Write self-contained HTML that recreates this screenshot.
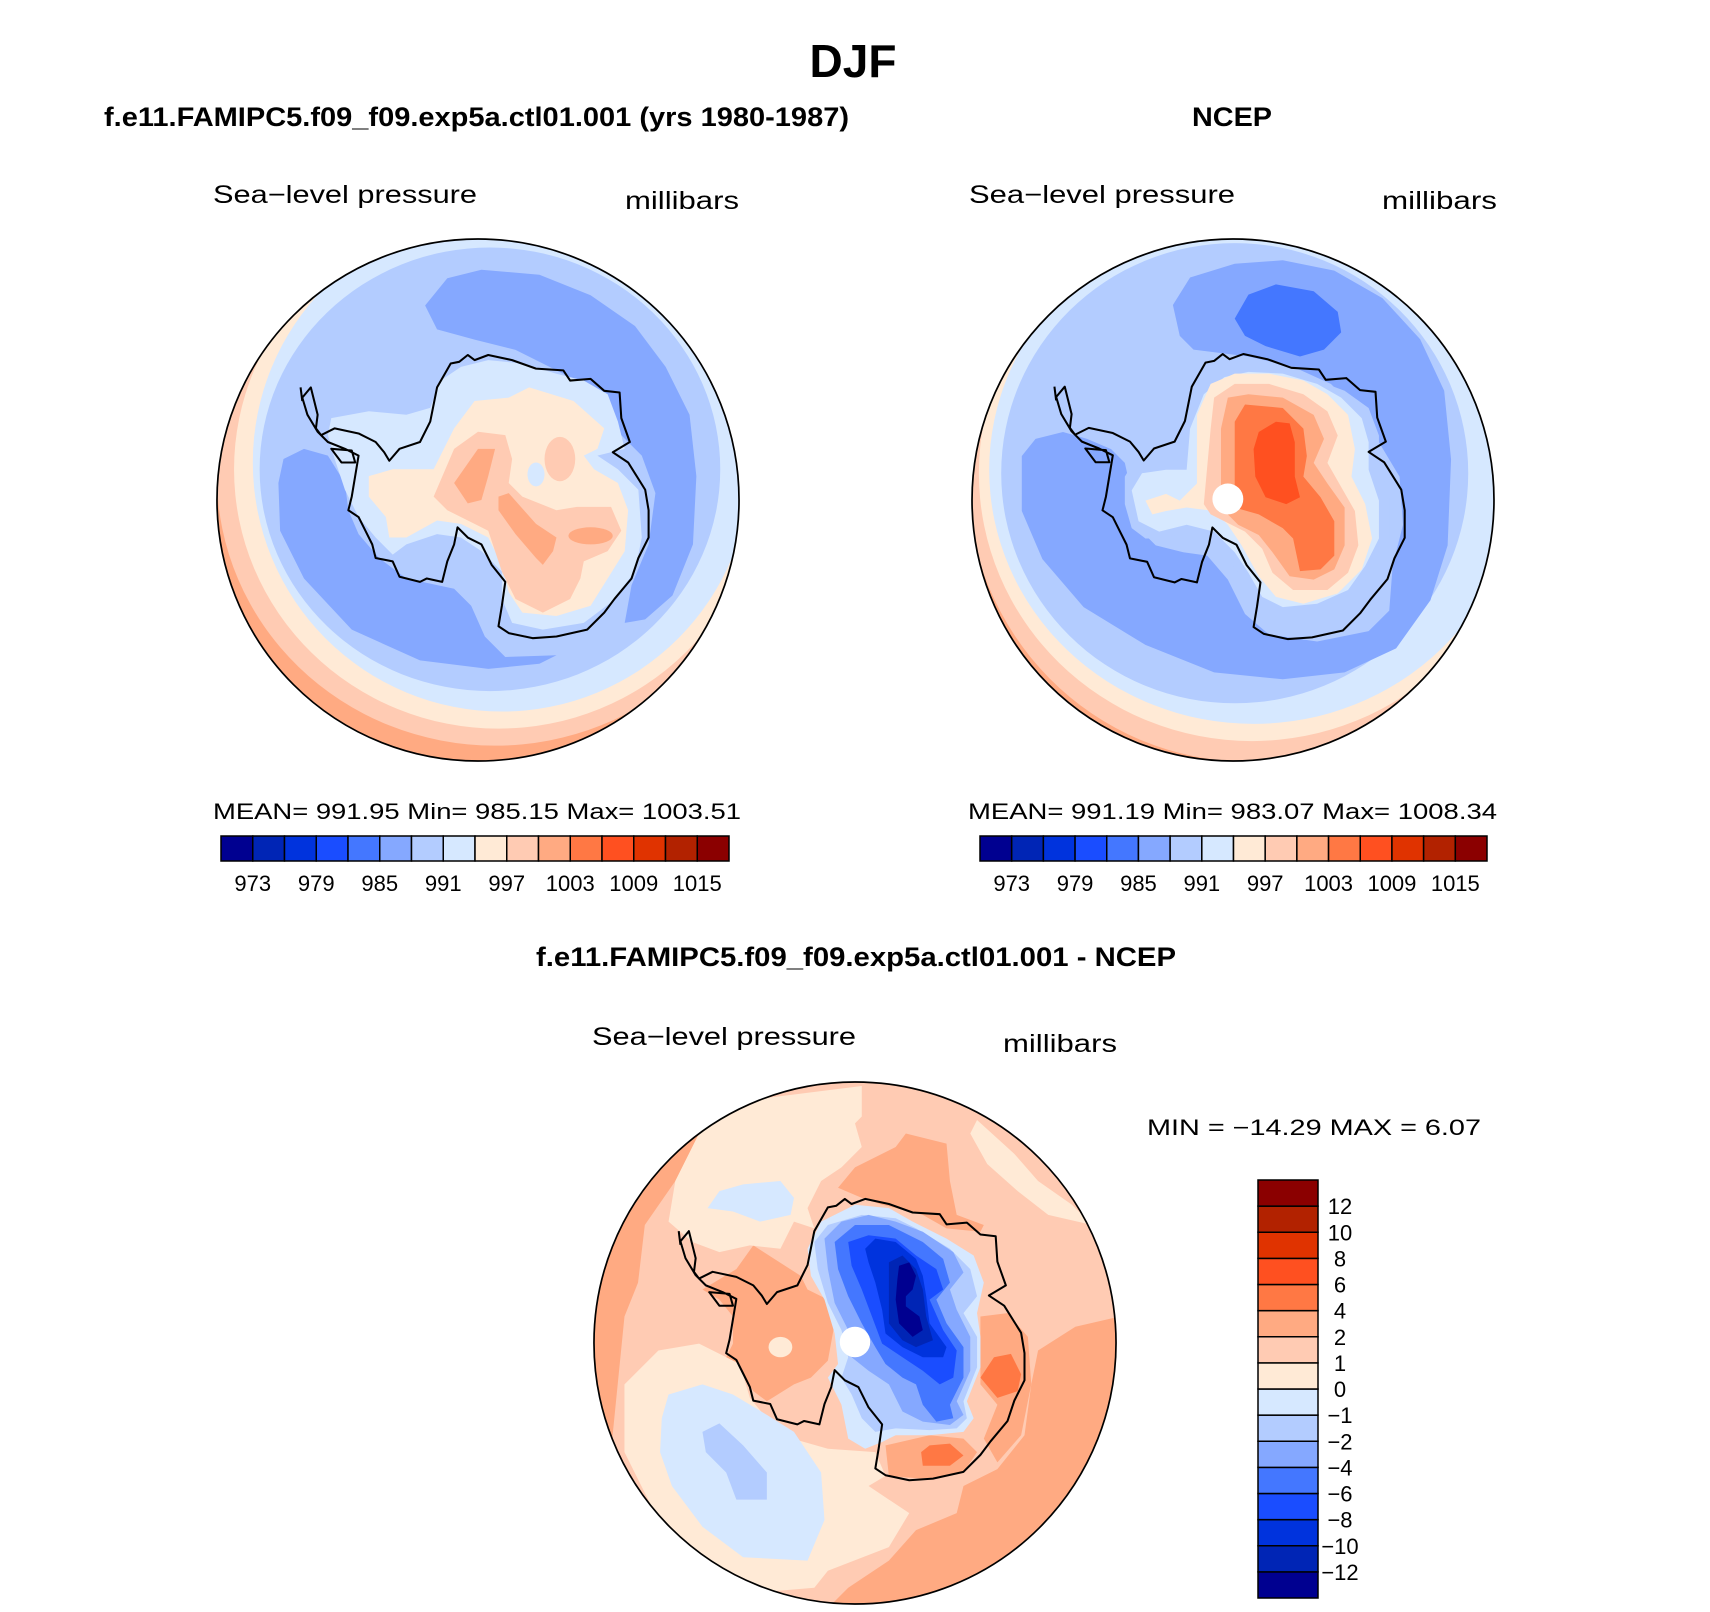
<!DOCTYPE html>
<html><head><meta charset="utf-8"><title>DJF Sea-level pressure</title>
<style>
html,body{margin:0;padding:0;background:#fff;}
svg{display:block;}
text{font-family:"Liberation Sans",sans-serif;fill:#000;}
</style></head>
<body>
<svg id="fig" width="1710" height="1612" viewBox="0 0 1710 1612" xmlns="http://www.w3.org/2000/svg">
<defs>
  <clipPath id="clipL"><circle cx="770" cy="770" r="765"/></clipPath>
  <clipPath id="clipR"><circle cx="755" cy="768" r="760"/></clipPath>
  <clipPath id="clipB"><circle cx="780" cy="778" r="770"/></clipPath>
  <path id="coast" fill="none" stroke="#000" stroke-width="6" stroke-linejoin="round" d="M280,440 L290,480 L300,520 L295,560 L310,580 L350,560 L420,575 L470,600 L495,630 L510,655 L540,620 L600,600 L630,540 L650,440 L690,370 L715,365 L740,345 L760,360 L800,345 L870,360 L940,385 L1020,390 L1040,420 L1100,415 L1140,450 L1185,455 L1190,530 L1215,600 L1165,630 L1210,660 L1260,740 L1270,800 L1270,880 L1240,940 L1220,1000 L1170,1060 L1140,1100 L1090,1150 L1000,1170 L930,1175 L860,1160 L830,1140 L840,1080 L850,1010 L810,960 L780,900 L740,880 L710,850 L700,900 L680,950 L665,1010 L620,1000 L600,1010 L540,995 L520,950 L470,940 L460,900 L440,860 L420,820 L390,800 L400,760 L410,700 L420,640 L380,620 L330,600 L300,570 L270,520 L255,470 Z M340,620 L400,625 L410,660 L370,660 Z M250,440 L255,480"/>
</defs>

<text x="853" y="77" font-size="46" font-weight="bold" text-anchor="middle">DJF</text>
<text x="104" y="126" font-size="27" font-weight="bold" textLength="745" lengthAdjust="spacingAndGlyphs">f.e11.FAMIPC5.f09_f09.exp5a.ctl01.001 (yrs 1980-1987)</text>
<text x="1232" y="126" font-size="27" font-weight="bold" text-anchor="middle" textLength="80" lengthAdjust="spacingAndGlyphs">NCEP</text>

<text x="213" y="203" font-size="25" textLength="264" lengthAdjust="spacingAndGlyphs">Sea−level pressure</text>
<text x="625" y="209" font-size="25" textLength="114" lengthAdjust="spacingAndGlyphs">millibars</text>
<text x="969" y="203" font-size="25" textLength="266" lengthAdjust="spacingAndGlyphs">Sea−level pressure</text>
<text x="1382" y="209" font-size="25" textLength="115" lengthAdjust="spacingAndGlyphs">millibars</text>

<!-- LEFT MAP -->
<g transform="translate(478,500) scale(0.3412) translate(-770,-770)">
 <g clip-path="url(#clipL)">
  <circle cx="770" cy="770" r="765" fill="#ffaa82"/>
  <ellipse cx="820" cy="700" rx="815" ry="790" fill="#ffcbb3"/>
  <ellipse cx="830" cy="680" rx="775" ry="760" fill="#ffead6"/>
  <ellipse cx="840" cy="660" rx="730" ry="730" fill="#d6e8ff"/>
  <ellipse cx="805" cy="680" rx="675" ry="650" fill="#b3ccff"/>
  <polygon fill="#85a8ff" points="185,720 200,650 260,620 330,640 380,720 390,800 420,870 480,940 560,1000 700,1030 750,1080 790,1170 850,1230 1000,1225 950,1250 800,1265 600,1240 400,1150 260,1000 190,860"/>
  <polygon fill="#85a8ff" points="1200,1130 1220,1020 1270,900 1290,750 1250,640 1170,560 1100,470 1020,400 880,330 760,300 650,270 615,200 680,120 780,95 950,110 1100,170 1230,260 1320,380 1390,520 1410,700 1400,900 1340,1050 1260,1120"/>
  <polygon fill="#d6e8ff" points="340,530 450,510 560,520 630,500 660,420 720,380 800,360 900,370 1000,400 1080,420 1150,460 1180,540 1200,620 1120,640 1180,680 1240,740 1250,880 1230,980 1160,1070 1080,1130 960,1150 870,1130 840,1060 840,980 780,920 720,880 650,870 560,900 520,930 470,880 420,820 380,740 350,650 330,580"/>
  <polygon fill="#ffead6" points="450,700 520,680 640,680 700,560 760,480 860,470 920,440 1050,480 1140,560 1120,620 1080,640 1110,680 1180,720 1210,800 1200,920 1150,1000 1100,1080 1000,1110 900,1100 860,1040 840,960 800,880 720,840 650,830 560,880 510,880 500,820 450,760"/>
  <polygon fill="#ffcbb3" points="640,760 700,620 770,570 850,580 870,650 860,720 900,760 1000,800 1060,790 1160,790 1190,860 1150,920 1080,950 1070,1000 1040,1060 960,1100 880,1060 840,980 800,860 760,840 680,800"/>
  <ellipse cx="1010" cy="650" rx="45" ry="65" fill="#ffcbb3"/>
  <ellipse cx="940" cy="695" rx="25" ry="35" fill="#d6e8ff"/>
  <polygon fill="#ffaa82" points="700,720 770,620 820,620 800,700 780,770 740,780"/>
  <polygon fill="#ffaa82" points="830,760 860,750 940,840 1000,880 990,920 960,960 940,940 880,870 830,800"/>
  <ellipse cx="1100" cy="875" rx="65" ry="25" fill="#ffaa82"/>
 </g>
 <use href="#coast"/>
 <circle cx="770" cy="770" r="765" fill="none" stroke="#000" stroke-width="5"/>
</g>

<!-- RIGHT MAP -->
<g transform="translate(1233,500) scale(0.3434) translate(-755,-768)">
 <g clip-path="url(#clipR)">
  <circle cx="755" cy="768" r="760" fill="#ffaa82"/>
  <ellipse cx="800" cy="700" rx="820" ry="830" fill="#ffcbb3"/>
  <ellipse cx="810" cy="690" rx="795" ry="780" fill="#ffead6"/>
  <ellipse cx="815" cy="680" rx="770" ry="740" fill="#d6e8ff"/>
  <ellipse cx="760" cy="690" rx="680" ry="670" fill="#b3ccff"/>
  <polygon fill="#85a8ff" points="140,640 180,590 260,570 330,590 400,620 440,660 460,750 470,840 530,900 610,920 680,930 740,1000 790,1100 860,1160 1000,1180 1150,1150 1210,1090 1220,960 1250,840 1240,700 1180,600 1120,510 1040,430 930,380 800,350 640,330 600,290 580,200 630,120 760,80 900,70 1050,100 1190,180 1300,300 1370,450 1390,650 1380,900 1330,1060 1230,1200 1080,1270 900,1290 700,1270 500,1190 320,1080 200,940 140,800"/>
  <polygon fill="#4477ff" points="760,240 800,170 880,140 990,160 1060,220 1070,280 1020,330 950,350 850,320 790,290"/>
  <polygon fill="#b3ccff" points="440,700 470,650 540,660 610,650 620,560 660,460 720,400 800,380 900,390 1000,420 1080,450 1150,500 1180,580 1180,660 1210,760 1210,880 1170,960 1120,1030 1020,1080 900,1090 820,1060 780,990 740,940 680,880 620,860 560,880 500,880 460,850 440,780"/>
  <polygon fill="#d6e8ff" points="460,740 490,690 560,680 620,680 630,560 670,460 730,410 800,395 900,400 1000,430 1070,470 1130,530 1150,600 1150,680 1180,770 1180,880 1140,960 1090,1030 1000,1070 900,1080 840,1050 800,980 760,920 700,860 620,840 540,860 480,830"/>
  <polygon fill="#ffead6" points="500,770 560,750 600,770 650,720 650,520 690,430 760,400 860,400 960,420 1030,460 1090,520 1110,620 1100,700 1140,780 1160,880 1130,970 1060,1040 960,1070 880,1050 830,990 780,900 740,840 700,800 620,790 560,800 520,810"/>
  <polygon fill="#ffcbb3" points="670,780 690,560 700,470 760,430 860,430 960,460 1030,510 1060,580 1030,660 1070,730 1110,800 1120,900 1090,980 1030,1030 930,1030 870,980 840,910 790,860 730,830 690,810"/>
  <polygon fill="#ffaa82" points="720,790 720,560 740,470 800,460 900,470 990,520 1020,590 990,660 1030,720 1080,790 1080,900 1050,970 990,1000 920,990 870,920 830,870 770,840"/>
  <polygon fill="#ff7844" points="760,790 760,540 790,490 900,500 960,560 970,640 960,700 1010,760 1050,830 1050,930 1010,970 950,975 930,880 900,850 830,810"/>
  <polygon fill="#ff5020" points="815,620 830,570 880,540 920,545 935,600 935,700 950,760 910,780 850,760 820,700"/>
  <circle cx="740" cy="765" r="45" fill="#fff"/>
 </g>
 <use href="#coast" transform="translate(-15,-2)"/>
 <circle cx="755" cy="768" r="760" fill="none" stroke="#000" stroke-width="5"/>
</g>

<text x="213" y="819" font-size="22" textLength="528" lengthAdjust="spacingAndGlyphs">MEAN= 991.95   Min= 985.15   Max= 1003.51</text>
<text x="968" y="819" font-size="22" textLength="529" lengthAdjust="spacingAndGlyphs">MEAN= 991.19   Min= 983.07   Max= 1008.34</text>

<g id="cbarLeft"></g>
<g id="cbarRight"></g>

<text x="856" y="966" font-size="27" font-weight="bold" text-anchor="middle" textLength="640" lengthAdjust="spacingAndGlyphs">f.e11.FAMIPC5.f09_f09.exp5a.ctl01.001 - NCEP</text>
<text x="592" y="1045" font-size="25" textLength="264" lengthAdjust="spacingAndGlyphs">Sea−level pressure</text>
<text x="1003" y="1052" font-size="25" textLength="114" lengthAdjust="spacingAndGlyphs">millibars</text>
<text x="1147" y="1135" font-size="22" textLength="334" lengthAdjust="spacingAndGlyphs">MIN = −14.29 MAX =    6.07</text>

<!-- BOTTOM DIFFERENCE MAP -->
<g transform="translate(855,1343) scale(0.339) translate(-780,-778)">
 <g clip-path="url(#clipB)">
  <circle cx="780" cy="778" r="770" fill="#ffcbb3"/>
  <polygon fill="#ffaa82" points="0,400 80,300 200,200 330,140 250,300 160,430 140,600 100,700 80,900 60,1100 30,1100 0,900"/>
  <polygon fill="#ffaa82" points="1560,700 1560,1560 700,1560 760,1500 880,1420 960,1330 1080,1280 1100,1200 1200,1150 1280,1050 1300,900 1320,800 1430,730"/>
  <polygon fill="#ffaa82" points="730,320 780,260 900,200 930,160 1050,190 1060,300 1080,400 1160,430 1150,450 1050,440 980,400 860,370 800,350"/>
  <polygon fill="#ffaa82" points="330,620 430,560 480,490 620,580 640,620 700,650 720,720 700,830 650,880 600,900 520,950 480,920 450,870 400,820 420,780 420,700 380,650"/>
  <polygon fill="#ffaa82" points="1150,700 1230,690 1290,760 1300,900 1270,1050 1200,1130 1160,1060 1200,960 1150,900"/>
  <polygon fill="#ffaa82" points="870,1080 1000,1050 1100,1060 1140,1100 1100,1160 1000,1180 880,1170"/>
  <polygon fill="#ffead6" points="330,140 480,60 800,20 800,110 780,130 800,200 740,260 680,300 640,380 660,440 600,420 560,500 470,490 380,510 300,480 230,420 250,300"/>
  <polygon fill="#ffead6" points="100,900 200,800 320,780 440,840 470,940 560,1050 700,1090 840,1100 870,1170 820,1200 940,1280 880,1380 700,1450 660,1500 420,1520 200,1300 100,1100"/>
  <polygon fill="#ffead6" points="1140,120 1250,220 1320,300 1420,370 1480,430 1350,400 1260,330 1170,250 1120,160"/>
  <ellipse cx="560" cy="790" rx="35" ry="30" fill="#ffead6"/>
  <polygon fill="#d6e8ff" points="210,1000 230,930 330,900 420,930 520,990 600,1040 680,1160 690,1300 640,1420 450,1410 330,1320 240,1200 205,1100"/>
  <polygon fill="#b3ccff" points="330,1040 380,1015 450,1080 520,1160 520,1240 430,1240 400,1160 340,1100"/>
  <polygon fill="#d6e8ff" points="345,380 380,330 450,310 560,300 600,350 590,400 500,420 420,390"/>
  <polygon fill="#ff7844" points="1150,880 1190,820 1240,810 1270,870 1260,920 1200,940"/>
  <polygon fill="#ff7844" points="975,1100 1000,1080 1060,1075 1100,1110 1060,1140 980,1140"/>
  <polygon fill="#d6e8ff" points="640,500 680,420 780,370 880,380 950,420 1050,470 1130,520 1160,600 1140,690 1150,760 1150,850 1110,950 1130,1000 1100,1040 1000,1050 900,1050 860,1070 810,1090 760,1060 740,960 700,880 730,840 720,750 690,650 650,580"/>
  <polygon fill="#b3ccff" points="660,480 700,430 800,400 900,410 960,440 1060,500 1120,560 1140,640 1100,690 1140,760 1140,850 1100,950 1110,1000 1080,1030 1000,1035 900,1030 840,1040 800,1000 770,930 740,880 760,820 740,740 700,660 670,560"/>
  <polygon fill="#85a8ff" points="690,470 740,420 820,400 900,420 980,450 1070,510 1100,570 1060,620 1080,680 1120,760 1120,860 1080,950 1100,990 1060,1020 980,1010 920,980 880,900 820,860 770,820 760,740 720,660 700,560"/>
  <polygon fill="#4477ff" points="720,480 780,430 880,430 980,480 1040,530 1060,600 1020,650 1050,720 1100,790 1100,880 1060,960 1070,1000 1020,1010 980,960 960,900 920,880 870,840 840,790 800,720 760,640 730,560"/>
  <polygon fill="#1a4dff" points="760,480 820,460 900,470 960,520 1020,560 1040,620 1000,650 1040,740 1080,800 1070,880 1030,900 980,860 920,820 860,780 830,700 800,620 770,550"/>
  <polygon fill="#0033dd" points="810,500 840,470 900,480 960,530 980,580 990,640 1000,720 1050,790 1040,820 980,820 920,790 870,750 860,680 840,600 820,540"/>
  <polygon fill="#0025b5" points="880,540 920,520 960,560 980,620 990,700 1010,770 960,790 920,770 880,720 880,640"/>
  <polygon fill="#000090" points="910,550 940,540 960,580 950,620 930,640 930,670 970,700 980,740 950,760 910,720 900,650 905,590"/>
  <circle cx="780" cy="775" r="45" fill="#fff"/>
 </g>
 <use href="#coast" transform="translate(10,8)"/>
 <circle cx="780" cy="778" r="770" fill="none" stroke="#000" stroke-width="5"/>
</g>

<g id="cbarDiff"></g>
</svg>

<script>
// colorbar data
const fillColors = ["#000090","#0025b5","#0033dd","#1a4dff","#4477ff","#85a8ff","#b3ccff","#d6e8ff","#ffead6","#ffcbb3","#ffaa82","#ff7844","#ff5020","#e03300","#b22200","#8b0000"];
const slpLevels = [973,976,979,982,985,988,991,994,997,1000,1003,1006,1009,1012,1015];
const slpTickLabels = ["973","979","985","991","997","1003","1009","1015"];
const diffLevels = [-12,-10,-8,-6,-4,-2,-1,0,1,2,4,6,8,10,12];
const diffTickLabels = ["−12","−10","−8","−6","−4","−2","−1","0","1","2","4","6","8","10","12"];

const NS = "http://www.w3.org/2000/svg";
function mk(tag, attrs, parent){
  const e = document.createElementNS(NS, tag);
  for (const k in attrs) e.setAttribute(k, attrs[k]);
  parent.appendChild(e);
  return e;
}

function horizBar(id, x0, x1, y0, y1, side){
  const g = document.getElementById(id);
  const n = fillColors.length;
  const w = (x1 - x0) / n;
  const xScale = i => x0 + i * w;
  for (let i = 0; i < n; i++){
    const r = mk("rect", {x:xScale(i), y:y0, width:w, height:y1-y0, fill:fillColors[i], stroke:"#000", "stroke-width":1.5}, g);
    
    
  }
  slpTickLabels.forEach(lbl => {
    const idx = slpLevels.indexOf(Number(lbl));
    const t = mk("text", {x:xScale(idx + 1), y:y1 + 30, "font-size":22, "text-anchor":"middle"}, g);
    t.textContent = lbl;
    
    
  });
}
horizBar("cbarLeft", 221, 729, 836, 861, "left");
horizBar("cbarRight", 980, 1487, 836, 861, "right");

(function(){
  const g = document.getElementById("cbarDiff");
  const n = fillColors.length;
  const y0 = 1180, y1 = 1598, x0 = 1258, x1 = 1318;
  const h = (y1 - y0) / n;
  const yScale = i => y1 - i * h;
  for (let i = 0; i < n; i++){
    const r = mk("rect", {x:x0, y:yScale(i+1), width:x1-x0, height:h, fill:fillColors[i], stroke:"#000", "stroke-width":1.5}, g);
    
    
  }
  diffLevels.forEach((v, i) => {
    const t = mk("text", {x:1340, y:yScale(i+1) + 8, "font-size":22, "text-anchor":"middle"}, g);
    t.textContent = diffTickLabels[i];
    
    
  });
})();
</script>
</body></html>
